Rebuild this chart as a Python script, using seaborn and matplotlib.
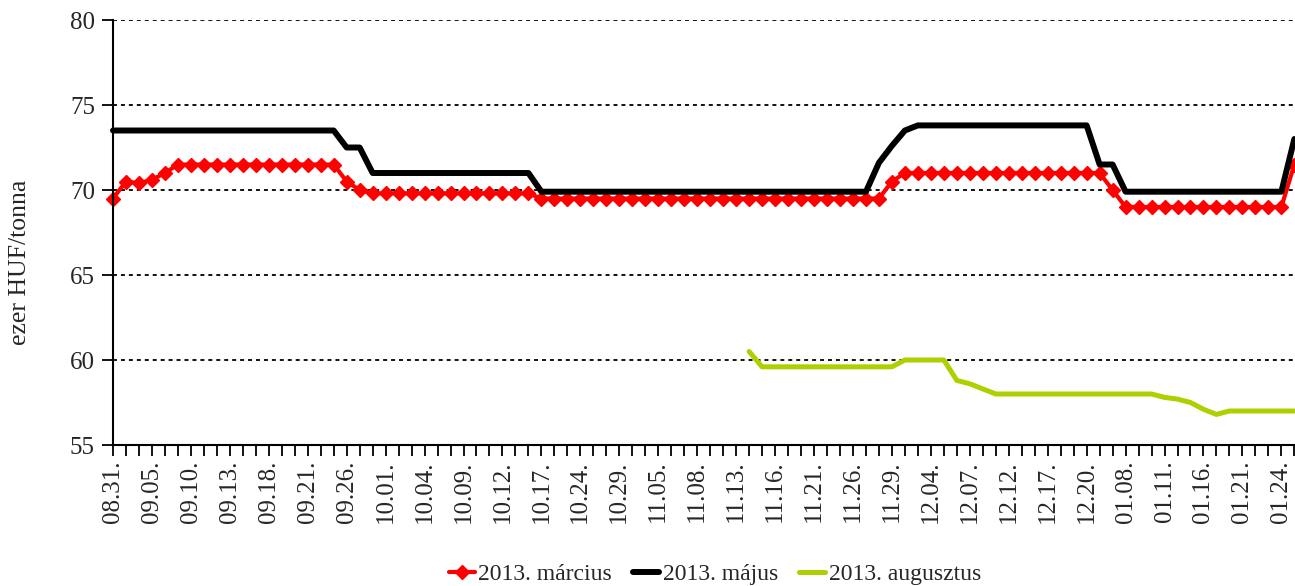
import numpy as np
import matplotlib
matplotlib.use('Agg')
import matplotlib.pyplot as plt
import seaborn as sns

# --- data (one value per trading day, 92 days) ---
marcius = ([69.5, 70.5, 70.4, 70.6, 71.0] + [71.5] * 13 + [70.5, 70.0] + [69.8] * 13
           + [69.5] * 27 + [70.5] + [71.0] * 16 + [70.0] + [69.0] * 13 + [71.5])
majus = ([73.5] * 18 + [72.5] * 2 + [71.0] * 13 + [69.9] * 26 + [71.6, 72.6, 73.5]
         + [73.8] * 14 + [71.5] * 2 + [69.9] * 13 + [73.0])
augusztus = ([np.nan] * 49 + [60.5] + [59.6] * 11 + [60.0] * 4 + [58.8, 58.6, 58.3]
             + [58.0] * 13 + [57.8, 57.7, 57.5, 57.1, 56.8] + [57.0] * 6)

tick_labels = ['08.31.', '09.05.', '09.10.', '09.13.', '09.18.', '09.21.', '09.26.',
               '10.01.', '10.04.', '10.09.', '10.12.', '10.17.', '10.24.', '10.29.',
               '11.05.', '11.08.', '11.13.', '11.16.', '11.21.', '11.26.', '11.29.',
               '12.04.', '12.07.', '12.12.', '12.17.', '12.20.', '01.08.', '01.11.',
               '01.16.', '01.21.', '01.24.']

pos = np.arange(len(marcius))

sns.set_theme(style='white')
plt.rcParams['font.family'] = ['Liberation Serif', 'DejaVu Serif']

fig = plt.figure(figsize=(12.95, 5.86), dpi=100)
ax = fig.add_axes([113 / 1295, 1 - 445 / 586, 1 - 113 / 1295, 425 / 586])

# series drawn in Excel order: március, május, augusztus
sns.lineplot(x=pos, y=marcius, ax=ax, color='#FF0000', lw=3, marker='D', markersize=7,
             markeredgecolor='#FF0000', markeredgewidth=1, label='2013. március', clip_on=False)
sns.lineplot(x=pos, y=majus, ax=ax, color='black', lw=4.3, label='2013. május', clip_on=False)
sns.lineplot(x=pos, y=augusztus, ax=ax, color='#ADD000', lw=3.6, label='2013. augusztus')

ax.set_xlim(0, 91.05)
ax.set_ylim(55, 80)
ax.set_yticks([55, 60, 65, 70, 75, 80])
ax.set_xticks(pos[::3])
ax.set_xticklabels(tick_labels, rotation=90)
ax.set_xticks(pos, minor=True)
ax.tick_params(axis='x', which='both', direction='out', length=8, width=1.3,
               bottom=True, color='black', labelsize=18, pad=3)
ax.tick_params(axis='y', direction='out', length=8, width=1.3, left=True,
               color='black', labelsize=18, pad=5)

# dotted horizontal gridlines
for y in [60, 65, 70, 75, 80]:
    ax.axhline(y, color='black', lw=1.3, ls=(0, (2.2, 2.2)), zorder=0)

for side in ['top', 'right']:
    ax.spines[side].set_visible(False)
for side in ['left', 'bottom']:
    ax.spines[side].set_color('black')
    ax.spines[side].set_linewidth(1.5)
ax.set_xlabel('')
ax.set_ylabel('')

fig.text(20 / 1295, 1 - 262 / 586, 'ezer HUF/tonna', rotation=90, fontsize=18.5,
         ha='center', va='center')

ax.legend(loc='center', bbox_to_anchor=(0.552, 0.02), bbox_transform=fig.transFigure,
          ncol=3, frameon=False, fontsize=17, handlelength=1.1, columnspacing=0.9,
          handletextpad=0.15, borderpad=0)

plt.savefig('out.png', dpi=100)
